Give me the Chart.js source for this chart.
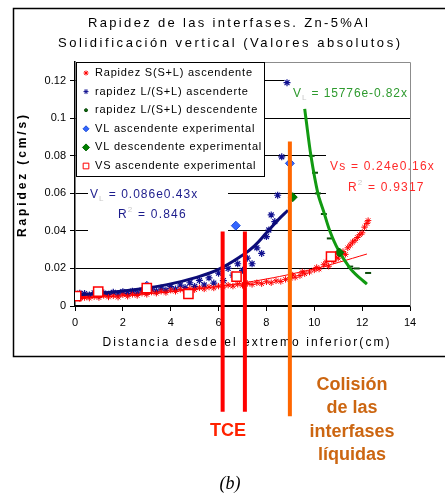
<!DOCTYPE html>
<html>
<head>
<meta charset="utf-8">
<script src="https://cdn.jsdelivr.net/npm/chart.js@4.4.1/dist/chart.umd.min.js"></script>
<style>
  html, body { margin: 0; padding: 0; background: #fff; }
  canvas { display: block; }
</style>
</head>
<body>
<canvas id="chart" width="445" height="498"></canvas>
<script>
// ---- axis ticks ----
const xMin = 0, xMax = 14, xStep = 2;
const yMax = 0.13;
const yTicks = [0, 0.02, 0.04, 0.06, 0.08, 0.1, 0.12];
const yTickLabels = ['0', '0.02', '0.04', '0.06', '0.08', '0.1', '0.12'];

// ---- series (x in cm, y in cm/s) ----
const seriesNames = [
  'Rapidez S(S+L) ascendente',
  'rapidez L/(S+L) ascenderte',
  'rapidez L/(S+L) descendente',
  'VL ascendente experimental',
  'VL descendente experimental',
  'VS ascendente experimental'
];

const sAscendente = [
  [0,0.0045],[0.1,0.0055],[0.2,0.004],[0.3,0.005],[0.4,0.0045],[0.5,0.0055],[0.6,0.0042],[0.8,0.005],
  [1.0,0.0045],[1.2,0.0056],[1.4,0.0048],[1.6,0.0054],[1.8,0.0047],[2.0,0.006],[2.2,0.0052],[2.4,0.0062],
  [2.6,0.0056],[2.8,0.0068],[3.0,0.0062],[3.2,0.0074],[3.4,0.0068],[3.6,0.0078],[3.8,0.0072],[4.0,0.0084],
  [4.2,0.0078],[4.4,0.0088],[4.6,0.0082],[4.8,0.0092],[5.0,0.0087],[5.2,0.0097],[5.4,0.0091],[5.6,0.0101],
  [5.8,0.0096],[6.0,0.0106],[6.2,0.0101],[6.4,0.0111],[6.6,0.0106],[6.8,0.0116],[7.0,0.011],[7.2,0.012],
  [7.4,0.0115],[7.6,0.0124],[7.8,0.0119],[8.0,0.0129],[8.2,0.0124],[8.4,0.0134],[8.6,0.0131],[8.8,0.0142],
  [9.0,0.0148],[9.1,0.0165],[9.2,0.0153],[9.4,0.0162],[9.5,0.0182],[9.6,0.0172],[9.8,0.0181],[10.0,0.0192],
  [10.1,0.0205],[10.2,0.0197],[10.4,0.022],[10.5,0.0235],[10.6,0.0212],[10.8,0.024],[10.9,0.026],[11.0,0.0255],
  [11.1,0.028],[11.2,0.029],[11.3,0.0275],[11.4,0.031],[11.5,0.0325],[11.6,0.034],[11.7,0.035],[11.8,0.0365],
  [11.9,0.038],[12.0,0.039],[12.1,0.042],[12.2,0.044],[12.25,0.0455]
];

const lAscendente = [
  [0,0.006],[0.1,0.0048],[0.2,0.0068],[0.3,0.0055],[0.4,0.0066],[0.6,0.0058],[0.8,0.007],[1.0,0.0056],
  [1.2,0.0069],[1.4,0.0062],[1.6,0.0073],[1.8,0.0064],[2.0,0.0076],[2.2,0.0066],[2.4,0.0079],[2.6,0.0069],
  [2.8,0.0084],[3.0,0.0074],[3.2,0.009],[3.4,0.0079],[3.6,0.0096],[3.8,0.0084],[4.0,0.0104],[4.2,0.009],
  [4.4,0.0112],[4.6,0.0098],[4.8,0.0124],[5.0,0.0104],[5.2,0.0136],[5.4,0.0112],[5.6,0.015],[5.8,0.0122],
  [6.0,0.0175],[6.2,0.0135],[6.4,0.02],[6.6,0.0165],[6.8,0.0225],[7.0,0.019],[7.2,0.0255],[7.4,0.0225],
  [7.6,0.031],[7.8,0.028],[8.0,0.037],[8.1,0.0405],[8.2,0.0485],[8.35,0.045],[8.47,0.059],[8.64,0.0795],
  [8.86,0.119]
];

const lDescendente = [
  [9.89,0.08],[10.03,0.071],[10.15,0.06],[10.4,0.049],[10.65,0.036],[11.07,0.028],[11.5,0.021],
  [11.77,0.02],[12.25,0.0176]
];

const vlAscExp = [[3.0,0.0108],[6.72,0.0428],[8.98,0.076]];
const vlDescExp = [[9.1,0.058],[11.05,0.0285]];
const vsAscExp = [[0.05,0.0053],[0.97,0.0077],[3.0,0.0095],[4.74,0.0064],[6.75,0.0156],[10.7,0.0263]];

// trendlines as drawn in the figure
const trendL = [[0,0.0058],[1,0.0068],[2,0.008],[3,0.0096],[4,0.0118],[5,0.015],[6,0.0195],[7,0.027],[7.5,0.032],[8,0.039],[8.5,0.046],[8.9,0.051]];
const trendS = [[0,0.004],[2,0.0055],[4,0.0076],[6,0.0105],[8,0.0144],[10,0.0198],[11,0.0232],[12.2,0.0277]];
const trendLDesc = [[9.6,0.105],[9.65,0.1],[9.86,0.08],[10.15,0.06],[10.4,0.05],[10.65,0.04],[11.0,0.03],[11.5,0.02],[11.8,0.016],[12.2,0.0117]];

// marked positions (TCE and collision), x in cm
const tceX = [6.17, 7.1];
const colisionX = 8.98;

const FONT = "'Liberation Sans', Arial, sans-serif";
const pts = arr => arr.map(p => ({ x: p[0], y: p[1] }));

// draw text stretched to a width by letter spacing
function spaced(ctx, text, x, y, width, align) {
  ctx.save();
  ctx.letterSpacing = '0px';
  const w = ctx.measureText(text).width;
  const gap = width ? (width - w) / Math.max(text.length - 1, 1) : 0;
  ctx.letterSpacing = gap + 'px';
  ctx.textAlign = 'left';
  const startX = align === 'center' ? x - width / 2 : x;
  ctx.fillText(text, startX, y);
  ctx.restore();
}

// equation text with sub/superscripts
function drawEq(ctx, x, y, parts, color, size, gap) {
  ctx.save();
  ctx.textBaseline = 'middle';
  ctx.textAlign = 'left';
  let cx = x;
  parts.forEach(p => {
    const small = p.sub || p.sup;
    ctx.font = (small ? size - 4 : size) + 'px ' + FONT;
    ctx.fillStyle = small ? '#c8c8c8' : color;
    ctx.letterSpacing = '0px';
    const w = ctx.measureText(p.t).width;
    ctx.letterSpacing = gap + 'px';
    const dy = p.sub ? 4 : (p.sup ? -5 : 0);
    ctx.fillText(p.t, cx, y + dy);
    cx += w + gap * p.t.length;
  });
  ctx.restore();
}

const decorations = {
  id: 'decorations',
  beforeDatasetsDraw(chart) {
    const ctx = chart.ctx;
    const a = chart.chartArea;
    ctx.save();
    // plot area top/right border
    ctx.strokeStyle = '#8c8c8c';
    ctx.lineWidth = 1;
    ctx.beginPath();
    ctx.moveTo(a.left, a.top + 0.5);
    ctx.lineTo(a.right + 0.5, a.top + 0.5);
    ctx.lineTo(a.right + 0.5, a.bottom);
    ctx.stroke();

    // white label boxes
    ctx.fillStyle = '#fff';
    ctx.fillRect(284, 75, 126, 30);
    ctx.fillRect(326, 150, 84, 48);
    ctx.fillRect(88, 184, 140, 50);

    // legend
    ctx.fillRect(76, 62, 188, 114);
    ctx.strokeStyle = '#000';
    ctx.strokeRect(76.5, 62.5, 188, 114);
    const rows = chart.data.datasets.filter(d => d.legendRow !== undefined)
      .sort((p, q) => p.legendRow - q.legendRow);
    ctx.font = '11px ' + FONT;
    ctx.letterSpacing = '0px';
    const w0 = ctx.measureText(seriesNames[0]).width;
    const gap = (157 - w0) / (seriesNames[0].length - 1);
    rows.forEach((d, i) => {
      const y = 73 + i * 18.6;
      ctx.fillStyle = d.legendFill || d.backgroundColor;
      ctx.strokeStyle = d.legendStroke || d.borderColor;
      ctx.lineWidth = 1;
      Chart.helpers.drawPoint(ctx, {
        pointStyle: d.legendStyle || d.pointStyle,
        radius: d.legendRadius || 2.5,
        rotation: 0,
        borderWidth: 1
      }, 86, y);
      ctx.fillStyle = '#000';
      ctx.textBaseline = 'middle';
      ctx.textAlign = 'left';
      ctx.letterSpacing = gap + 'px';
      ctx.fillText(seriesNames[d.legendRow], 95, y);
      ctx.letterSpacing = '0px';
    });

    // trendline equations
    drawEq(ctx, 293, 94, [{ t: 'V' }, { t: 'L', sub: true }, { t: ' = 15776e-0.82x' }], '#2e9a2e', 12, 0.9);
    drawEq(ctx, 330, 167, [{ t: 'Vs = 0.24e0.16x' }], '#ff2a2a', 12, 1.2);
    drawEq(ctx, 348, 188, [{ t: 'R' }, { t: '2', sup: true }, { t: ' = 0.9317' }], '#ff2a2a', 12, 1.2);
    drawEq(ctx, 90, 195, [{ t: 'V' }, { t: 'L', sub: true }, { t: ' = 0.086e0.43x' }], '#1c1c8c', 12, 1.0);
    drawEq(ctx, 118, 215, [{ t: 'R' }, { t: '2', sup: true }, { t: ' = 0.846' }], '#1c1c8c', 12, 1.2);
    ctx.restore();
  },
  afterDraw(chart) {
    const ctx = chart.ctx;
    const xs = chart.scales.x, ys = chart.scales.y;
    ctx.save();
    // outer frame
    ctx.strokeStyle = '#000';
    ctx.lineWidth = 1.5;
    ctx.strokeRect(13.5, 8.5, 460, 348);

    // titles
    ctx.fillStyle = '#000';
    ctx.textBaseline = 'middle';
    ctx.font = '13px ' + FONT;
    spaced(ctx, 'Rapidez de las interfases. Zn-5%Al', 228, 23, 280, 'center');
    spaced(ctx, 'Solidificación vertical (Valores absolutos)', 229, 43, 342, 'center');
    ctx.font = '12px ' + FONT;
    spaced(ctx, 'Distancia desde el extremo inferior(cm)', 246, 343, 287, 'center');
    ctx.save();
    ctx.translate(23, 176);
    ctx.rotate(-Math.PI / 2);
    ctx.font = 'bold 12px ' + FONT;
    spaced(ctx, 'Rapidez (cm/s)', 0, 0, 122, 'center');
    ctx.restore();

    // TCE and collision markers
    ctx.lineWidth = 4;
    ctx.strokeStyle = '#ff0000';
    tceX.forEach(v => {
      const px = xs.getPixelForValue(v);
      ctx.beginPath();
      ctx.moveTo(px, ys.getPixelForValue(0.0397));
      ctx.lineTo(px, ys.getPixelForValue(-0.0564));
      ctx.stroke();
    });
    ctx.strokeStyle = '#ff6600';
    const ox = xs.getPixelForValue(colisionX);
    ctx.beginPath();
    ctx.moveTo(ox, ys.getPixelForValue(0.0876));
    ctx.lineTo(ox, ys.getPixelForValue(-0.0587));
    ctx.stroke();

    ctx.textAlign = 'center';
    ctx.font = 'bold 18px ' + FONT;
    ctx.fillStyle = '#ff2200';
    ctx.fillText('TCE', 228, 431);
    ctx.fillStyle = '#cc6611';
    ['Colisión', 'de las', 'interfases', 'líquidas'].forEach((t, i) => {
      ctx.fillText(t, 352, 385 + i * 23.5);
    });
    ctx.font = 'italic 18px "Liberation Serif", "Times New Roman", serif';
    ctx.fillStyle = '#000';
    ctx.fillText('(b)', 230, 484);
    ctx.restore();
  }
};

new Chart(document.getElementById('chart'), {
  type: 'scatter',
  data: {
    datasets: [
      { label: seriesNames[5], legendRow: 5, data: pts(vsAscExp), pointStyle: 'rect', pointRadius: 6.5,
        borderWidth: 1.5, borderColor: '#ff0000', backgroundColor: '#ffffff', legendRadius: 4 },
      { label: seriesNames[4], legendRow: 4, data: pts(vlDescExp), pointStyle: 'rectRot', pointRadius: 4.5,
        borderWidth: 1, borderColor: '#006600', backgroundColor: '#008000', legendRadius: 3.5 },
      { label: seriesNames[3], legendRow: 3, data: pts(vlAscExp), pointStyle: 'rectRot', pointRadius: 4.5,
        borderWidth: 1, borderColor: '#1f4fd8', backgroundColor: '#3366ff', legendRadius: 3 },
      { type: 'line', data: pts(trendL), showLine: true, pointRadius: 0, borderColor: '#0c0c78',
        borderWidth: 3, tension: 0.4 },
      { type: 'line', data: pts(trendLDesc), showLine: true, pointRadius: 0, borderColor: '#119a11',
        borderWidth: 3, tension: 0.3 },
      { type: 'line', data: pts(trendS), showLine: true, pointRadius: 0, borderColor: '#ff0000',
        borderWidth: 1, tension: 0.4 },
      { label: seriesNames[2], legendRow: 2, data: pts(lDescendente), pointStyle: 'line', pointRadius: 3,
        borderWidth: 2, borderColor: '#0a4a0a', backgroundColor: '#0a4a0a',
        legendStyle: 'circle', legendRadius: 1.5, legendFill: '#0a6a0a' },
      { label: seriesNames[0], legendRow: 0, data: pts(sAscendente), pointStyle: 'star', pointRadius: 3.2,
        borderWidth: 1, borderColor: '#ff0000', backgroundColor: '#ff0000', legendRadius: 2.5 },
      { label: seriesNames[1], legendRow: 1, data: pts(lAscendente), pointStyle: 'star', pointRadius: 3.5,
        borderWidth: 1.2, borderColor: '#101090', backgroundColor: '#101090', legendRadius: 2.5 }
    ]
  },
  options: {
    responsive: false,
    devicePixelRatio: 1,
    animation: false,
    events: [],
    layout: { padding: { left: 0, top: 62, right: 35, bottom: 0 } },
    plugins: { legend: { display: false }, title: { display: false }, tooltip: { enabled: false } },
    scales: {
      x: {
        type: 'linear', min: xMin, max: xMax,
        afterFit: s => { s.height = 192; },
        grid: { drawOnChartArea: false, drawTicks: true, tickLength: 5, color: '#000' },
        border: { color: '#000', width: 1.5 },
        ticks: { stepSize: xStep, padding: 5, color: '#000', font: { family: FONT, size: 11 } }
      },
      y: {
        type: 'linear', min: 0, max: yMax,
        afterFit: s => { s.width = 75; },
        afterBuildTicks: s => { s.ticks = yTicks.map(v => ({ value: v })); },
        grid: { color: '#000', lineWidth: 1, tickLength: 5 },
        border: { color: '#000', width: 1.5 },
        ticks: { padding: 4, color: '#000', font: { family: FONT, size: 11 },
          callback: (v, i) => yTickLabels[i] }
      }
    }
  },
  plugins: [decorations]
});
</script>
</body>
</html>
